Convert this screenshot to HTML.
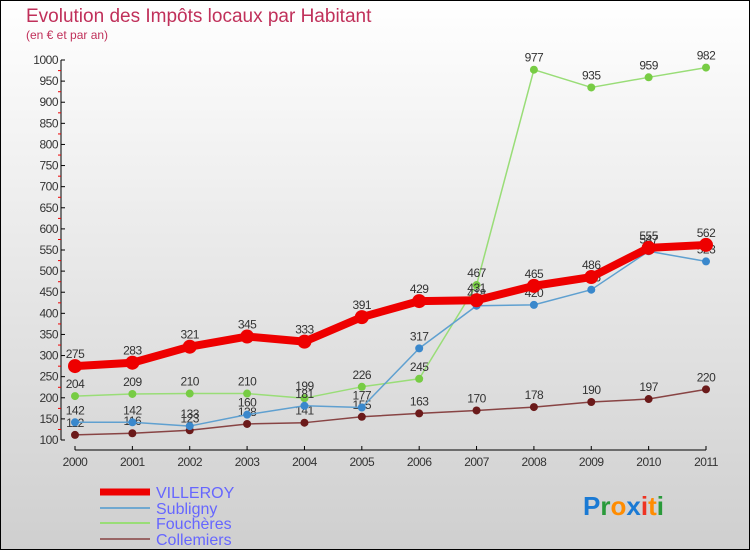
<!DOCTYPE html>
<html><head><meta charset="utf-8"><style>
html,body{margin:0;padding:0}
body{width:750px;height:550px;overflow:hidden;font-family:"Liberation Sans",sans-serif}
svg text{font-family:"Liberation Sans",sans-serif}
</style></head><body>
<svg id="chart" width="750" height="550" xmlns="http://www.w3.org/2000/svg">
<defs><linearGradient id="bg" x1="0" y1="0" x2="0" y2="1"><stop offset="0" stop-color="#ffffff"/><stop offset="1" stop-color="#cfcfcf"/></linearGradient></defs>
<rect x="0.5" y="0.5" width="749" height="549" fill="url(#bg)" stroke="#000"/>
<text x="26" y="22" font-size="19" fill="#c0305a">Evolution des Impôts locaux par Habitant</text>
<text x="26" y="39" font-size="12" fill="#c0305a">(en € et par an)</text>
<g id="axes"></g><g id="series"></g>
<g>
<line x1="100" y1="492" x2="150" y2="492" stroke="#ee0000" stroke-width="7"/>
<text x="156" y="498" font-size="16" fill="#6666ff">VILLEROY</text>
<line x1="100" y1="508" x2="150" y2="508" stroke="#6fa8d0" stroke-width="2"/>
<text x="156" y="514" font-size="16" fill="#6666ff">Subligny</text>
<line x1="100" y1="523" x2="150" y2="523" stroke="#99dd77" stroke-width="2"/>
<text x="156" y="529" font-size="16" fill="#6666ff">Fouchères</text>
<line x1="100" y1="539" x2="150" y2="539" stroke="#996666" stroke-width="2"/>
<text x="156" y="545" font-size="16" fill="#6666ff">Collemiers</text>
</g>
<g font-size="26" font-weight="bold">
<text x="583" y="515"><tspan fill="#1a7ad4">P</tspan><tspan fill="#2a9a3a">r</tspan><tspan fill="#ff8c00">o</tspan><tspan fill="#1a7ad4">x</tspan><tspan fill="#ee3322">i</tspan><tspan fill="#ff8c00">t</tspan><tspan fill="#2a9a3a">i</tspan></text>
</g>
</svg>
<script>
const years = ["2000","2001","2002","2003","2004","2005","2006","2007","2008","2009","2010","2011"];
const villeroy = [275,283,321,345,333,391,429,431,465,486,555,562];
const subligny = [142,142,133,160,181,177,317,418,420,456,547,523];
const foucheres = [204,209,210,210,199,226,245,467,977,935,959,982];
const collemiers = [112,116,123,138,141,155,163,170,178,190,197,220];
const yTicks = [100,150,200,250,300,350,400,450,500,550,600,650,700,750,800,850,900,950,1000];
const NS="http://www.w3.org/2000/svg";
function xs(i){return 75+i*(706-75)/(years.length-1);}
function ys(v){return 440-(v-100)*(380/900);}
function mk(tag,attrs,parent,txt){const e=document.createElementNS(NS,tag);for(const k in attrs)e.setAttribute(k,attrs[k]);if(txt!==undefined)e.textContent=txt;parent.appendChild(e);return e;}
const ax=document.getElementById('axes');
let l=mk('line',{x1:61,y1:60,x2:61,y2:440,stroke:'#000'},ax);


yTicks.forEach((t,i)=>{
  const y=ys(t);
  const tk=mk('line',{x1:61,y1:y,x2:65,y2:y,stroke:'#000'},ax);
  
  
  if(i<yTicks.length-1){const m=mk('line',{x1:58,y1:y-10.5,x2:61,y2:y-10.5,stroke:'#e00'},ax);
  
  }
  const tx=mk('text',{x:58,y:y+4,'font-size':12,fill:'#333','text-anchor':'end','letter-spacing':'-0.5'},ax,t);
  
  
});
l=mk('line',{x1:75,y1:450,x2:706,y2:450,stroke:'#000'},ax);


years.forEach((yr,i)=>{
  const x=xs(i);
  const tk=mk('line',{x1:x,y1:446,x2:x,y2:450,stroke:'#000'},ax);
  
  
  const tx=mk('text',{x:x,y:466,'font-size':12,fill:'#333','text-anchor':'middle','letter-spacing':'-0.5'},ax,yr);
  
  
});
const sg=document.getElementById('series');
function series(vals,name,color,w,r,dot){
  const g=mk('g',{},sg);
  
  
  const p=mk('polyline',{points:vals.map((v,i)=>xs(i)+','+ys(v)).join(' '),fill:'none',stroke:color,'stroke-width':w,'stroke-linejoin':'round'},g);
  
  
  vals.forEach((v,i)=>{
    const c=mk('circle',{cx:xs(i),cy:ys(v),r:r,fill:dot},g);
    
    
    const t=mk('text',{x:xs(i),y:ys(v)-8,'font-size':12,fill:'#333','text-anchor':'middle','letter-spacing':'-0.5'},g,v);
    
    
  });
}
series(collemiers,'collemiers','#884444',1.5,4,'#6b1a1a');
series(foucheres,'foucheres','#99dd77',1.5,4,'#77cc44');
series(subligny,'subligny','#5fa0d0',1.5,4,'#3a88cc');
series(villeroy,'villeroy','#ee0000',8,7,'#ee0000');
</script>
</body></html>
